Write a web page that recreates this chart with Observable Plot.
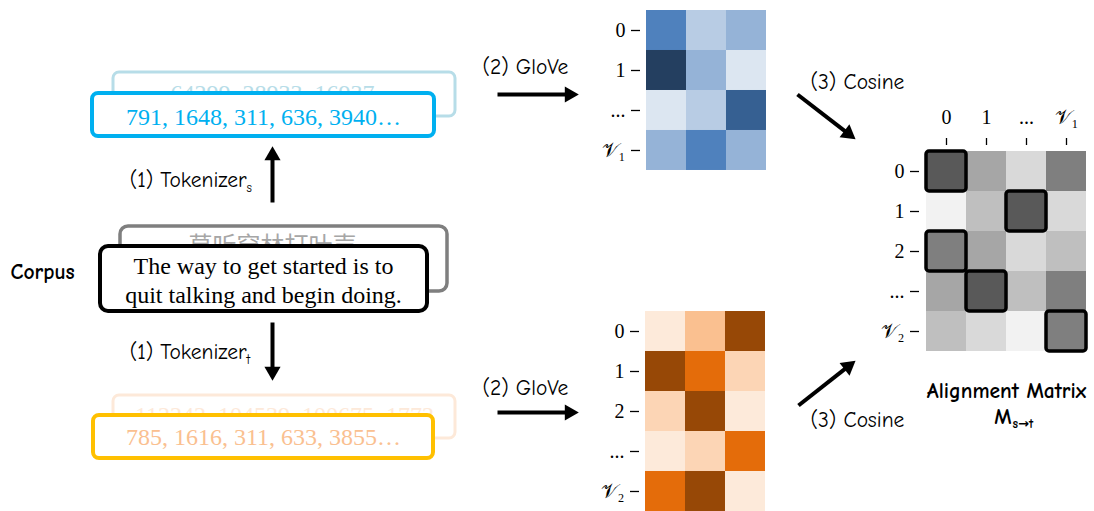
<!DOCTYPE html>
<html>
<head>
<meta charset="utf-8">
<script src="https://cdn.jsdelivr.net/npm/d3@7"></script>
<script src="https://cdn.jsdelivr.net/npm/@observablehq/plot@0.6"></script>
<style>
  html, body { margin: 0; padding: 0; background: #ffffff; }
  #root { position: relative; width: 1094px; height: 511px; overflow: hidden; background: #ffffff; }
  #root svg { position: absolute; overflow: visible; }
</style>
</head>
<body>
<div id="root"></div>
<script>
// ---------------- data ----------------
const blueRows = ["0", "1", "...", "𝒱₁"];
const blueCols = [0, 1, 2];
const blueValues = [
  [0.70, 0.30, 0.45],
  [1.00, 0.45, 0.10],
  [0.10, 0.30, 0.85],
  [0.45, 0.70, 0.45]
];
const blueDomain = [0.10, 0.30, 0.45, 0.70, 0.85, 1.00];
const blueRange = ["#dce6f1", "#b8cce4", "#95b3d7", "#4f81bd", "#366092", "#243f60"];

const orangeRows = ["0", "1", "2", "...", "𝒱₂"];
const orangeCols = [0, 1, 2];
const orangeValues = [
  [0.10, 0.45, 1.00],
  [1.00, 0.75, 0.30],
  [0.30, 1.00, 0.10],
  [0.10, 0.30, 0.75],
  [0.75, 1.00, 0.10]
];
const orangeDomain = [0.10, 0.30, 0.45, 0.75, 1.00];
const orangeRange = ["#fdeada", "#fcd5b5", "#fac090", "#e46c0a", "#974806"];

const alignRows = ["0", "1", "2", "...", "𝒱₂"];
const alignCols = ["0", "1", "...", "𝒱₁"];
const alignValues = [
  [0.65, 0.35, 0.15, 0.50],
  [0.05, 0.25, 0.65, 0.15],
  [0.50, 0.35, 0.15, 0.25],
  [0.35, 0.65, 0.25, 0.50],
  [0.25, 0.15, 0.05, 0.50]
];
const alignBest = [0, 2, 0, 1, 3];
const grayDomain = [0.05, 0.15, 0.25, 0.35, 0.50, 0.65];
const grayRange = ["#f2f2f2", "#d9d9d9", "#bfbfbf", "#a6a6a6", "#7f7f7f", "#595959"];

const sourceTokens = "791, 1648, 311, 636, 3940…";
const sourceTokensBack = "64299, 28933, 16937…";
const targetTokens = "785, 1616, 311, 633, 3855…";
const targetTokensBack = "112242, 104539, 100675, 1772";
const corpusLines = ["The way to get started is to", "quit talking and begin doing."];
const corpusBack = "莫听穿林打叶声";

// ---------------- layout ----------------
const W = 1094, H = 511;
const COMIC = "'Comic Sans MS', 'Comic Neue', 'DejaVu Sans', sans-serif";
const SERIF = "'Liberation Serif', 'Times New Roman', serif";

const boxes = [
  {x1: 113, y1: 72,  x2: 455, y2: 116, stroke: "#b7dde8", sw: 3,   rx: 6},
  {x1: 92,  y1: 93,  x2: 434, y2: 136, stroke: "#00b0f0", sw: 4,   rx: 6},
  {x1: 120, y1: 226, x2: 447, y2: 291, stroke: "#7f7f7f", sw: 3.5, rx: 8},
  {x1: 100, y1: 246, x2: 427, y2: 311, stroke: "#000000", sw: 4,   rx: 8},
  {x1: 113, y1: 395, x2: 455, y2: 438, stroke: "#fde9d9", sw: 3,   rx: 6},
  {x1: 93,  y1: 415, x2: 433, y2: 458, stroke: "#ffc000", sw: 4,   rx: 6}
];

const serifTexts = [
  {t: sourceTokensBack, x: 284, y: 93,  fill: "#b7dde8", layer: 0},
  {t: sourceTokens,     x: 263, y: 117, fill: "#00b0f0", layer: 1},
  {t: corpusLines[0],   x: 263, y: 266, fill: "#000000", layer: 3},
  {t: corpusLines[1],   x: 263, y: 295, fill: "#000000", layer: 3},
  {t: targetTokensBack, x: 284, y: 415, fill: "#fde9d9", layer: 4},
  {t: targetTokens,     x: 263, y: 437, fill: "#fac090", layer: 5}
];

const stepLabels = [
  {t: "(2) GloVe",  x: 482, y: 67},
  {t: "(2) GloVe",  x: 482, y: 388},
  {t: "(3) Cosine", x: 810, y: 82},
  {t: "(3) Cosine", x: 810, y: 420}
];
const tokenizerLabels = [
  {t: "(1) Tokenizer", x: 246, y: 180, sub: "s", subY: 187},
  {t: "(1) Tokenizer", x: 246, y: 352, sub: "t", subY: 359}
];

const arrows = [
  {x1: 497, y1: 94,  x2: 577, y2: 94},
  {x1: 497, y1: 412, x2: 577, y2: 412},
  {x1: 797, y1: 94,  x2: 854, y2: 138},
  {x1: 798, y1: 405, x2: 854, y2: 361},
  {x1: 272, y1: 202, x2: 272, y2: 147},
  {x1: 272, y1: 322, x2: 272, y2: 379}
];
const HEAD = 8; // distance from centroid to tip
const arrowShafts = arrows.map(a => {
  const L = Math.hypot(a.x2 - a.x1, a.y2 - a.y1);
  const ux = (a.x2 - a.x1) / L, uy = (a.y2 - a.y1) / L;
  return {x1: a.x1, y1: a.y1, x2: a.x2 - ux * HEAD, y2: a.y2 - uy * HEAD,
          rot: Math.atan2(ux, -uy) * 180 / Math.PI};
});

const root = document.getElementById("root");

// ---------------- background diagram ----------------
function boxLayer(i) {
  const b = [boxes[i]];
  return Plot.rect(b, {x1: "x1", y1: "y1", x2: "x2", y2: "y2", rx: b[0].rx,
    fill: "white", stroke: d => d.stroke, strokeWidth: b[0].sw});
}
function textLayer(i) {
  return Plot.text(serifTexts.filter(d => d.layer === i), {
    x: "x", y: "y", text: "t", fill: "fill", fontSize: 24, fontFamily: SERIF,
    textAnchor: "middle", lineAnchor: "middle"});
}

const bg = Plot.plot({
  width: W, height: H, margin: 0,
  x: {domain: [0, W], range: [0, W], axis: null},
  y: {domain: [0, H], range: [0, H], axis: null},
  style: {background: "transparent"},
  marks: [
    boxLayer(0), textLayer(0), boxLayer(1), textLayer(1),
    boxLayer(2),
    Plot.text([corpusBack], {x: () => 272, y: () => 246, text: d => d, fill: "#a6a6a6",
      fontSize: 24, fontFamily: "'Noto Sans CJK SC', sans-serif", textAnchor: "middle", lineAnchor: "middle"}),
    boxLayer(3), textLayer(3),
    boxLayer(4), textLayer(4), boxLayer(5), textLayer(5),
    Plot.text(["Corpus"], {x: () => 10, y: () => 272, text: d => d, fontFamily: COMIC, fontWeight: "bold",
      fontSize: 21.5, textAnchor: "start", fill: "black"}),
    Plot.text(stepLabels, {x: "x", y: "y", text: "t", textAnchor: "start", fontFamily: COMIC, fontSize: 21.5, fill: "black"}),
    Plot.text(tokenizerLabels, {x: "x", y: "y", text: "t", textAnchor: "end", fontFamily: COMIC, fontSize: 21.5, fill: "black"}),
    Plot.text(tokenizerLabels, {x: "x", y: "subY", text: "sub", textAnchor: "start", fontFamily: COMIC, fontSize: 13, fill: "black"}),
    Plot.text(["Alignment Matrix"], {x: () => 1006, y: () => 391, text: d => d, fontFamily: COMIC, fontWeight: "bold",
      fontSize: 21.5, textAnchor: "middle", fill: "black"}),
    Plot.text(["M"], {x: () => 1011, y: () => 417, text: d => d, fontFamily: COMIC, fontWeight: "bold",
      fontSize: 21.5, textAnchor: "end", fill: "black"}),
    Plot.text(["s→t"], {x: () => 1012, y: () => 423, text: d => d, fontFamily: COMIC, fontWeight: "bold",
      fontSize: 13, textAnchor: "start", fill: "black"}),
    Plot.link(arrowShafts, {x1: "x1", y1: "y1", x2: "x2", y2: "y2", stroke: "black", strokeWidth: 4}),
    Plot.dot(arrows.map((a, i) => ({x: arrowShafts[i].x2, y: arrowShafts[i].y2, rot: arrowShafts[i].rot})),
      {x: "x", y: "y", symbol: "triangle", r: 6, fill: "black", stroke: "none", rotate: "rot"})
  ]
});
bg.style.left = "0px"; bg.style.top = "0px";
root.appendChild(bg);

// ---------------- heatmaps ----------------
function heatmap({rows, cols, values, domain, range, best, cellW, cellH,
                  left, top, mLeft, mTop, mRight, mBottom, topAxis}) {
  const cells = rows.flatMap((r, i) => values[i].map((v, j) =>
    ({row: r, col: cols[j], v, best: best ? best[i] === j : false})));
  const marks = [
    Plot.cell(cells, {x: "col", y: "row", fill: "v", inset: 0}),
    Plot.axisY({tickSize: 9, tickPadding: 6, dx: -6, fontSize: 20, fontFamily: SERIF,
      stroke: "black", strokeWidth: 1.3, fill: "black", label: null})
  ];
  if (best) marks.push(Plot.cell(cells.filter(d => d.best), {x: "col", y: "row",
    fill: "none", stroke: "black", strokeWidth: 3.5, rx: 3, inset: 0}));
  if (topAxis) marks.push(Plot.axisX({anchor: "top", tickSize: 7, tickPadding: 14, dy: -6,
    fontSize: 20, fontFamily: SERIF, stroke: "black", strokeWidth: 1.3, fill: "black", label: null}));
  const p = Plot.plot({
    width: mLeft + cellW * cols.length + mRight,
    height: mTop + cellH * rows.length + mBottom,
    marginLeft: mLeft, marginTop: mTop, marginRight: mRight, marginBottom: mBottom,
    x: {domain: cols, padding: 0, axis: topAxis ? undefined : null},
    y: {domain: rows, padding: 0},
    color: {type: "linear", domain, range},
    style: {background: "transparent", fontFamily: SERIF, color: "black"},
    marks
  });
  p.style.left = (left - mLeft) + "px";
  p.style.top = (top - mTop) + "px";
  root.appendChild(p);
}

heatmap({rows: blueRows, cols: blueCols, values: blueValues, domain: blueDomain, range: blueRange,
  cellW: 40.33, cellH: 40.5, left: 646, top: 9, mLeft: 70, mTop: 2, mRight: 2, mBottom: 2});
heatmap({rows: orangeRows, cols: orangeCols, values: orangeValues, domain: orangeDomain, range: orangeRange,
  cellW: 40.33, cellH: 40, left: 645, top: 311, mLeft: 70, mTop: 2, mRight: 2, mBottom: 0});
heatmap({rows: alignRows, cols: alignCols, values: alignValues, domain: grayDomain, range: grayRange,
  best: alignBest, cellW: 40.5, cellH: 40.4, left: 925, top: 150, mLeft: 70, mTop: 50, mRight: 5, mBottom: 5,
  topAxis: true});
</script>
</body>
</html>
